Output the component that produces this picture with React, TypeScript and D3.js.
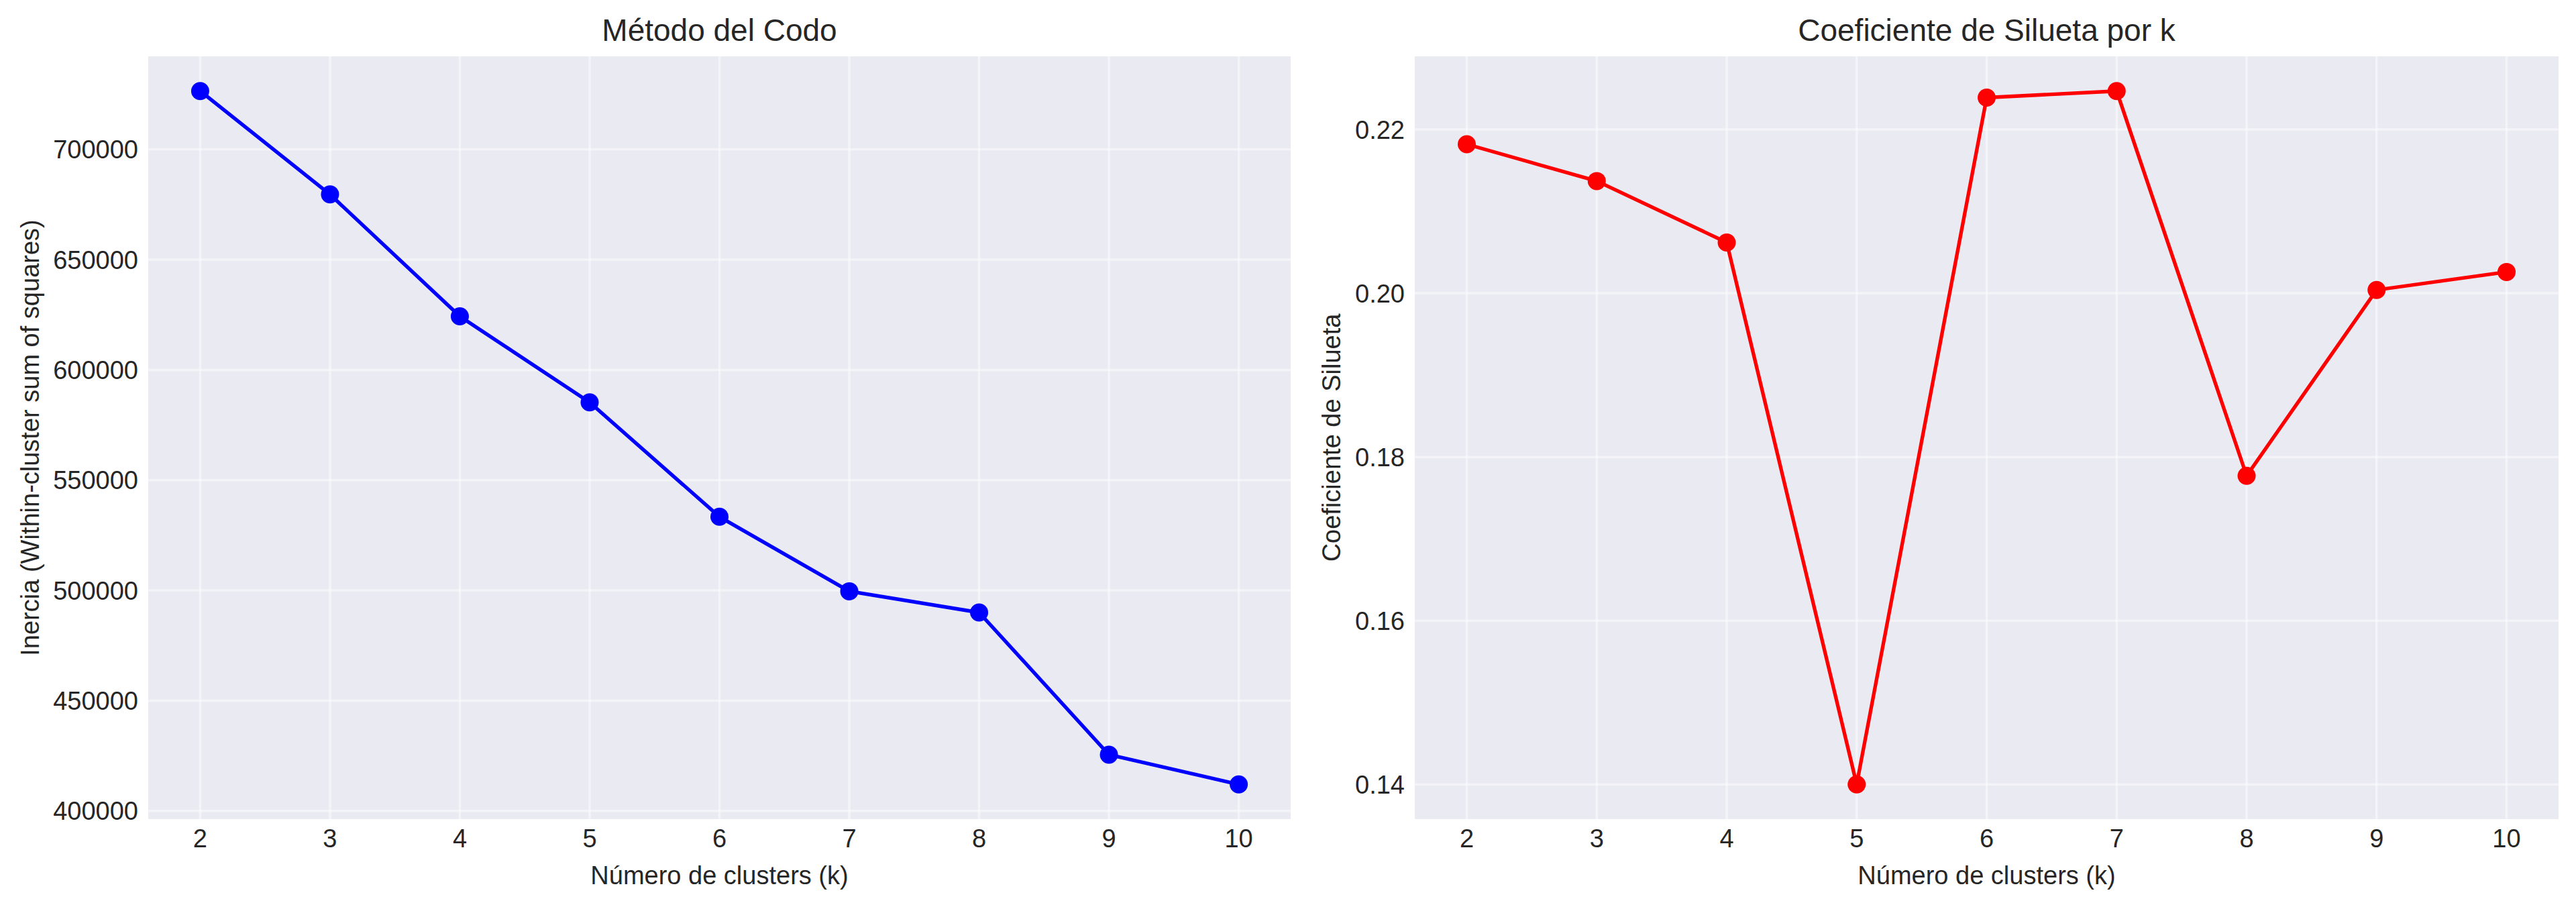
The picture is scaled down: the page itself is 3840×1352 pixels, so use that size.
import React from "react";
import * as d3 from "d3";

const W = 3840;
const H = 1352;

const ks = [2, 3, 4, 5, 6, 7, 8, 9, 10];
const inertia = [726500, 679600, 624300, 585300, 533400, 499600, 490000, 425500, 412000];
const silhouette = [0.2182, 0.2137, 0.2062, 0.14, 0.2239, 0.2247, 0.1777, 0.2004, 0.2026];

const inertiaTicks = [400000, 450000, 500000, 550000, 600000, 650000, 700000];
const silhouetteTicks = [0.14, 0.16, 0.18, 0.2, 0.22];

const FONT = "'Liberation Sans', Arial, sans-serif";
const TEXT = "#262626";
const BG = "#EAEAF2";

// matplotlib-style 5% margins around data
const padded = (vals: number[]) => {
  const [lo, hi] = d3.extent(vals) as [number, number];
  const m = (hi - lo) * 0.05;
  return [lo - m, hi + m];
};

interface PanelProps {
  left: number;
  right: number;
  values: number[];
  ticks: number[];
  fmt: (v: number) => string;
  color: string;
  title: string;
  yLabel: string;
  yLabelX: number;
}

const TOP = 84;
const BOTTOM = 1221;

const Panel: React.FC<PanelProps> = ({ left, right, values, ticks, fmt, color, title, yLabel, yLabelX }) => {
  const x = d3.scaleLinear().domain(padded(ks)).range([left, right]);
  const y = d3.scaleLinear().domain(padded(values)).range([BOTTOM, TOP]);
  const line = d3
    .line<number>()
    .x((_, i) => x(ks[i]))
    .y((d) => y(d));
  const cx = (left + right) / 2;
  const cy = (TOP + BOTTOM) / 2;

  return (
    <g>
      <rect x={left} y={TOP} width={right - left} height={BOTTOM - TOP} fill={BG} />
      {ks.map((k) => (
        <line key={"gx" + k} x1={x(k)} x2={x(k)} y1={TOP} y2={BOTTOM} stroke="#fff" strokeOpacity={0.45} strokeWidth={3.5} />
      ))}
      {ticks.map((t) => (
        <line key={"gy" + t} x1={left} x2={right} y1={y(t)} y2={y(t)} stroke="#fff" strokeOpacity={0.45} strokeWidth={3.5} />
      ))}
      <path d={line(values) || ""} fill="none" stroke={color} strokeWidth={5.4} strokeLinejoin="round" strokeLinecap="round" />
      {values.map((v, i) => (
        <circle key={"m" + i} cx={x(ks[i])} cy={y(v)} r={13.5} fill={color} />
      ))}
      {ks.map((k) => (
        <text key={"tx" + k} x={x(k)} y={1263} textAnchor="middle" fontSize={38} fill={TEXT} fontFamily={FONT}>
          {k}
        </text>
      ))}
      {ticks.map((t) => (
        <text key={"ty" + t} x={left - 15} y={y(t)} dy="0.36em" textAnchor="end" fontSize={38} fill={TEXT} fontFamily={FONT}>
          {fmt(t)}
        </text>
      ))}
      <text x={cx} y={61} textAnchor="middle" fontSize={46} fill={TEXT} fontFamily={FONT}>
        {title}
      </text>
      <text x={cx} y={1318} textAnchor="middle" fontSize={38} fill={TEXT} fontFamily={FONT}>
        Número de clusters (k)
      </text>
      <text
        transform={`translate(${yLabelX},${cy}) rotate(-90)`}
        textAnchor="middle"
        fontSize={38}
        fill={TEXT}
        fontFamily={FONT}
      >
        {yLabel}
      </text>
    </g>
  );
};

export default function App() {
  return (
    <div style={{ position: "absolute", left: 0, top: 0 }}>
      <svg width={W} height={H} style={{ display: "block", background: "#fff" }}>
        <Panel
          left={221}
          right={1924}
          values={inertia}
          ticks={inertiaTicks}
          fmt={(v) => String(v)}
          color="#0000ff"
          title="Método del Codo"
          yLabel="Inercia (Within-cluster sum of squares)"
          yLabelX={58}
        />
        <Panel
          left={2109}
          right={3814}
          values={silhouette}
          ticks={silhouetteTicks}
          fmt={d3.format(".2f")}
          color="#ff0000"
          title="Coeficiente de Silueta por k"
          yLabel="Coeficiente de Silueta"
          yLabelX={1998}
        />
      </svg>
    </div>
  );
}
